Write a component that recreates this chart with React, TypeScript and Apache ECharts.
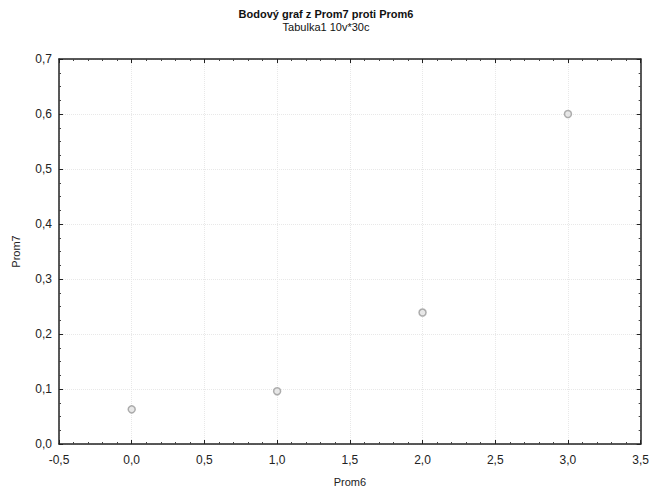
import React, { useEffect, useRef } from "react";
import * as echarts from "echarts";

const prom6: number[] = [0, 1, 2, 3];
const prom7: number[] = [0.063, 0.096, 0.239, 0.6];
const titleText = "Bodový graf z Prom7 proti Prom6";
const subText = "Tabulka1 10v*30c";
const xName = "Prom6";
const yName = "Prom7";

const fmt = (v: number) => v.toFixed(1).replace(".", ",");

export default function App() {
  const ref = useRef<HTMLDivElement>(null);
  useEffect(() => {
    if (!ref.current) return;
    document.body.style.margin = "0";
    const chart = echarts.init(ref.current, null, { renderer: "svg" });
    const font = "'Liberation Sans', Arial, sans-serif";
    const axisLine = { show: true, onZero: false, lineStyle: { color: "#222", width: 1.5 } };
    const splitLine = { show: true, lineStyle: { color: "#e8e8e8", type: "dotted" as const, width: 1 } };
    const xBase = {
      type: "value" as const,
      min: -0.5,
      max: 3.5,
      interval: 0.5,
      axisLine,
      axisTick: { show: true, inside: true, length: 4, lineStyle: { color: "#222" } },
      minorTick: { show: true, splitNumber: 5, length: 2, lineStyle: { color: "#444" } },
    };
    const yBase = {
      type: "value" as const,
      min: 0,
      max: 0.7,
      interval: 0.1,
      axisLine,
      axisTick: { show: true, inside: true, length: 4, lineStyle: { color: "#222" } },
      minorTick: { show: true, splitNumber: 4, length: 2, lineStyle: { color: "#444" } },
    };
    chart.setOption({
      animation: false,
      backgroundColor: "#fff",
      title: {
        text: titleText,
        subtext: subText,
        left: "center",
        top: 3,
        itemGap: 2,
        textStyle: { fontFamily: font, fontSize: 11, fontWeight: "bold", color: "#111" },
        subtextStyle: { fontFamily: font, fontSize: 11, color: "#111" },
      },
      grid: { left: 59, right: 11, top: 59, bottom: 46 },
      xAxis: [
        {
          ...xBase,
          position: "bottom",
          name: xName,
          nameLocation: "middle",
          nameGap: 32,
          nameTextStyle: { fontFamily: font, fontSize: 11, color: "#222" },
          axisLabel: { formatter: fmt, fontFamily: font, fontSize: 12, color: "#222", margin: 10 },
          splitLine,
        },
        {
          ...xBase,
          position: "top",
          axisLabel: { show: false },
          splitLine: { show: false },
        },
      ],
      yAxis: [
        {
          ...yBase,
          position: "left",
          name: yName,
          nameLocation: "middle",
          nameGap: 38,
          nameTextStyle: { fontFamily: font, fontSize: 11, color: "#222" },
          axisLabel: { formatter: fmt, fontFamily: font, fontSize: 12, color: "#222", margin: 7 },
          splitLine,
        },
        {
          ...yBase,
          position: "right",
          axisLabel: { show: false },
          splitLine: { show: false },
        },
      ],
      series: [
        {
          type: "scatter",
          xAxisIndex: 0,
          yAxisIndex: 0,
          symbol: "circle",
          symbolSize: 7,
          itemStyle: { color: "#e2e2e2", borderColor: "#9a9a9a", borderWidth: 1.5 },
          data: prom6.map((x, i) => [x, prom7[i]]),
        },
      ],
    });
    return () => chart.dispose();
  }, []);
  return <div ref={ref} style={{ position: "absolute", left: 0, top: 0, width: 652, height: 492 }} />;
}
